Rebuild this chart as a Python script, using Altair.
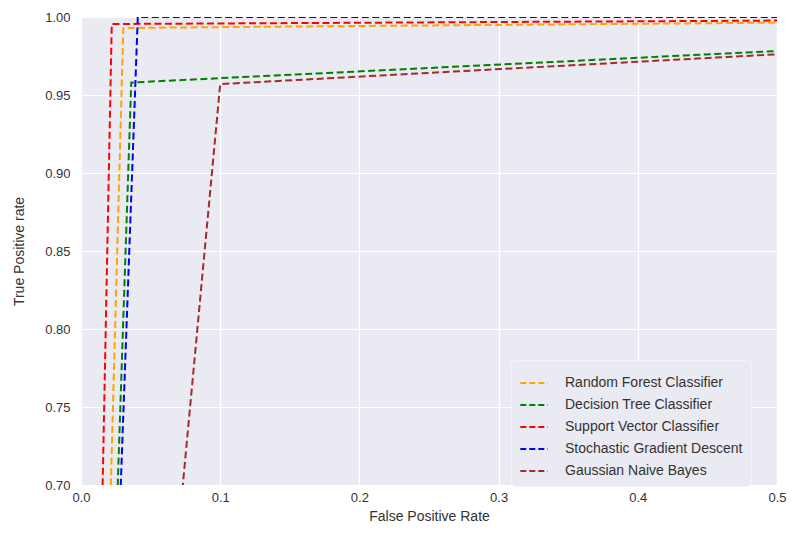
import altair as alt
import pandas as pd

models = ["Random Forest Classifier", "Decision Tree Classifier", "Support Vector Classifier",
          "Stochastic Gradient Descent", "Gaussian Naive Bayes"]
colors = ["orange", "green", "red", "blue", "brown"]
fpr = [
    [0.0, 0.0304, 1.0],
    [0.0, 0.0361, 1.0],
    [0.0, 0.0221, 1.0],
    [0.0, 0.0408, 1.0],
    [0.0, 0.1000, 1.0],
]
tpr = [
    [0.0, 0.993, 1.0],
    [0.0, 0.958, 1.0],
    [0.0, 0.9955, 1.0],
    [0.0, 1.000, 1.0],
    [0.0, 0.957, 1.0],
]

rows = []
for m, xs, ys in zip(models, fpr, tpr):
    for i, (x, y) in enumerate(zip(xs, ys)):
        rows.append({"model": m, "fpr": x, "tpr": y, "order": i})
df = pd.DataFrame(rows)

chart = alt.Chart(df).mark_line(strokeDash=[7, 3.5], strokeWidth=2, clip=True).encode(
    x=alt.X("fpr:Q", title="False Positive Rate",
            scale=alt.Scale(domain=[0, 0.5], nice=False, zero=False),
            axis=alt.Axis(values=[0, 0.1, 0.2, 0.3, 0.4, 0.5], format=".1f",
                          labelFlush=False, labelPadding=6, titlePadding=5)),
    y=alt.Y("tpr:Q", title="True Positive rate",
            scale=alt.Scale(domain=[0.7, 1.0], nice=False, zero=False),
            axis=alt.Axis(values=[0.7, 0.75, 0.8, 0.85, 0.9, 0.95, 1.0], format=".2f",
                          labelFlush=False, labelPadding=11, titlePadding=18)),
    color=alt.Color("model:N", scale=alt.Scale(domain=models, range=colors), sort=models,
                    legend=alt.Legend(title=None, orient="none", legendX=430, legendY=343,
                                      symbolType="stroke", symbolDash=[6, 3], symbolStrokeWidth=2,
                                      symbolSize=750, labelFontSize=14, labelColor="#333333",
                                      labelFont="Liberation Sans", rowPadding=0, labelLimit=400,
                                      fillColor="#EAEAF2", strokeColor="#f4f4f8", cornerRadius=4,
                                      padding=8, labelOffset=16)),
    order="order:Q",
    detail="model:N",
).properties(
    width=696, height=468,
    autosize=alt.AutoSizeParams(type="none"),
    padding={"left": 73, "top": 9, "right": 10, "bottom": 42},
).configure_view(
    fill="#EAEAF2", stroke=None
).configure_axis(
    grid=True, gridColor="white", gridWidth=1.2, domain=False, ticks=False,
    labelFont="Liberation Sans", titleFont="Liberation Sans",
    labelFontSize=13, titleFontSize=14, labelColor="#333333", titleColor="#333333",
    titleFontWeight="normal",
)

chart.save("out.html", embed_options={"renderer": "svg", "actions": False})
